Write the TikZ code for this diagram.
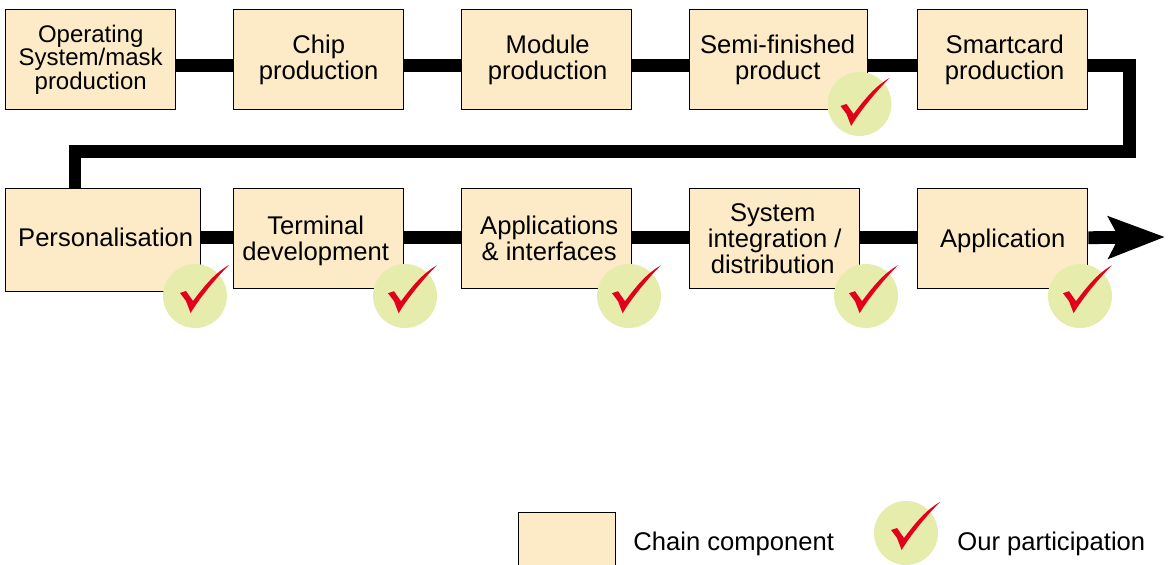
\documentclass[tikz,border=0pt]{standalone}
\usepackage{fontspec}
\setmainfont{Liberation Sans}
\usepackage{xcolor}
\usetikzlibrary{arrows.meta, positioning}
\definecolor{boxfill}{HTML}{FDEBC8}
\definecolor{markfill}{HTML}{E6EDAC}
\definecolor{markred}{HTML}{E2001A}

\begin{document}
\begin{tikzpicture}[
                node distance=28.3pt,
                box/.style={rectangle, draw=black, line width=0.7pt, fill=boxfill, minimum width=85pt, minimum height=50pt, inner sep=0pt, align=center, font=\fontsize{12.8}{12.9}\selectfont},
                label/.style={font=\fontsize{12.8}{12.9}\selectfont, inner sep=0pt, anchor=base west},
                chain/.style={line width=6.4pt, black},
                disc/.style={circle, fill=markfill, minimum size=32pt, inner sep=0pt},
                tick/.pic={\fill[markred] (-9.5pt,-1pt) -- (-6.5pt,0pt) -- (-3pt,-5pt) .. controls (3pt,3pt) and (8pt,9pt) .. (15pt,13pt) .. controls (8pt,6pt) and (0pt,-4pt) .. (-4.2pt,-11pt) -- (-6.5pt,-5pt) -- cycle;}
            ]
                \useasboundingbox (0,0) rectangle (585pt,-282.5pt);

                % top row
                \node[box, anchor=north west, font=\fontsize{12}{11.8}\selectfont] (p1) at (2.5pt,-4.5pt) {Operating\\System/mask\\production};
                \node[box, right=of p1] (p2) {Chip\\production};
                \node[box, right=of p2] (p3) {\hspace*{1pt}Module\\\hspace*{1pt}production};
                \node[box, right=of p3, minimum width=89pt] (p4) {Semi-finished\hspace*{1pt}\\product\hspace*{1pt}};
                \node[box, anchor=north west] (p5) at (458.5pt,-4.5pt) {\hspace*{2pt}Smartcard\\\hspace*{2pt}production};

                % bottom row
                \node[box, anchor=north west, minimum width=97.5pt, minimum height=51.5pt, text depth=3pt] (q1) at (2.5pt,-94pt) {\hspace*{2.5pt}Personalisation};
                \node[box, anchor=north west] (q2) at (116.5pt,-94pt) {\rule{0pt}{11.5pt}Terminal\hspace*{3pt}\\development\hspace*{3pt}};
                \node[box, right=of q2] (q3) {\hspace*{2.5pt}Applications\\\hspace*{2.5pt}\& interfaces};
                \node[box, right=of q3] (q4) {System\hspace*{2pt}\\integration /\hspace*{2pt}\\distribution\hspace*{2pt}};
                \node[box, right=of q4, text height=11pt] (q5) {Application};

                \coordinate (bendr) at (564.75pt,-75.75pt);
                \coordinate (bendl) at (37.5pt,-75.75pt);
                \coordinate (tip) at (582.5pt,-118.5pt);

                \draw[chain] ([yshift=-3pt]p1.east) -- ([yshift=-3pt]p2.west);
                \draw[chain] ([yshift=-3pt]p2.east) -- ([yshift=-3pt]p3.west);
                \draw[chain] ([yshift=-3pt]p3.east) -- ([yshift=-3pt]p4.west);
                \draw[chain] ([yshift=-3pt]p4.east) -- ([yshift=-3pt]p5.west);
                \draw[chain] ([yshift=-3pt]p5.east) -| (bendr) -- (bendl) -- (bendl |- q1.north);
                \draw[chain] ([yshift=1.25pt]q1.east) -- ([yshift=0.5pt]q2.west);
                \draw[chain] ([yshift=0.5pt]q2.east) -- ([yshift=0.5pt]q3.west);
                \draw[chain] ([yshift=0.5pt]q3.east) -- ([yshift=0.5pt]q4.west);
                \draw[chain] ([yshift=0.5pt]q4.east) -- ([yshift=0.5pt]q5.west);
                \draw[chain, -{Stealth[length=28pt, width=20.5pt, inset=5pt]}] ([yshift=0.5pt]q5.east) -- (tip);

                % participation marks
                \node[disc] (m1) at (429.75pt,-52pt) {};
                \node[disc] (m2) at (97.5pt,-148pt) {};
                \node[disc] (m3) at (202.5pt,-148pt) {};
                \node[disc] (m4) at (314.5pt,-148pt) {};
                \node[disc] (m5) at (433pt,-148pt) {};
                \node[disc] (m6) at (540pt,-148pt) {};
                \pic at (m1) {tick};
                \pic at ([shift={(2pt,2.5pt)}]m2) {tick};
                \pic at ([shift={(1pt,2.4pt)}]m3) {tick};
                \pic at ([shift={(1pt,2.4pt)}]m4) {tick};
                \pic at ([shift={(1pt,2.4pt)}]m5) {tick};
                \pic at ([shift={(1pt,2.4pt)}]m6) {tick};

                % legend
                \node[box, anchor=north west, minimum width=48.5pt, minimum height=40pt] (key) at (259pt,-256pt) {};
                \node[label] (keytext) at (316.5pt,-275pt) {Chain component};
                \node[disc] (m7) at (453pt,-266.5pt) {};
                \pic at ([shift={(2pt,2.5pt)}]m7) {tick};
                \node[label] (marktext) at (478.5pt,-275pt) {Our participation};
            \end{tikzpicture}
\end{document}
